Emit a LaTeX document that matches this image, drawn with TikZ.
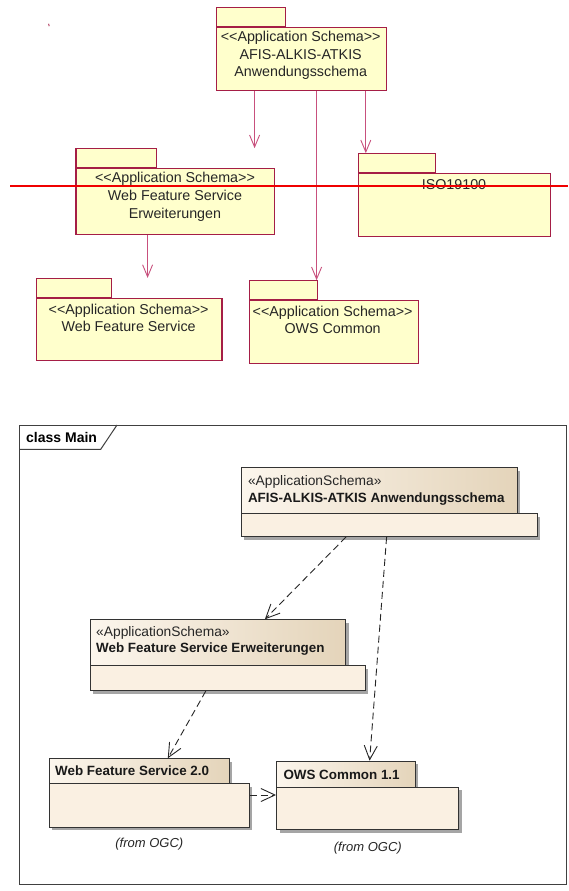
\documentclass[tikz,border=0pt]{standalone}
\usepackage{fontspec}
\setmainfont{Liberation Sans}
\usetikzlibrary{arrows.meta,shadows}
\definecolor{pkgfill}{RGB}{255,255,204}
\definecolor{pkgdraw}{RGB}{165,30,70}
\definecolor{pkgline}{RGB}{200,80,125}
\definecolor{redline}{RGB}{240,0,0}
\definecolor{hdrL}{RGB}{252,246,237}
\definecolor{hdrR}{RGB}{228,212,186}
\definecolor{lowfill}{RGB}{250,240,226}
\definecolor{shadowc}{RGB}{165,165,165}
\newcommand{\stlt}{<\kern0pt<}
\newcommand{\stgt}{>\kern0pt>}
\begin{document}
\begin{tikzpicture}[x=1pt,y=-1pt,
  pkg/.style={draw=pkgdraw,fill=pkgfill,line width=1.1pt,inner sep=0pt,rectangle},
  pkgtxt/.style={align=center,inner sep=0pt,font=\fontsize{14.3}{17.7}\selectfont,text=black!85},
  pdep/.style={draw=pkgline,line width=0.9pt,-{Straight Barb[length=12pt,width=10pt]}},
  cls/.style={draw=black!80,line width=1pt,inner sep=0pt,rectangle,
    drop shadow={shadow xshift=3pt,shadow yshift=-3pt,fill=shadowc,opacity=1}},
  clshdr/.style={cls,left color=hdrL,right color=hdrR},
  clslow/.style={cls,fill=lowfill},
  stereo/.style={anchor=west,inner sep=0pt,font=\fontsize{13.8}{16}\selectfont,text=black!85},
  clsname/.style={anchor=west,inner sep=0pt,font=\fontsize{13.4}{16}\selectfont\bfseries,text=black!90},
  fromtxt/.style={inner sep=0pt,font=\fontsize{13}{15}\selectfont\itshape,text=black!85},
  cdep/.style={draw=black!85,line width=0.9pt,dash pattern=on 7pt off 4pt,-{Straight Barb[length=14pt,width=13pt]}}
]
\useasboundingbox (0,0) rectangle (568,891);
\fill[white] (0,0) rectangle (568,891);

% ---------- upper diagram ----------
\draw[pkgdraw,line width=0.8pt] (48.6,23.8) -- (49.2,26.2);

\node[pkg,anchor=south west,minimum width=68.5pt,minimum height=18.4pt] (afistab) at (216.3,26.7) {};
\node[pkg,anchor=north west,minimum width=169.2pt,minimum height=63pt] (afis) at (216.3,26.7) {};
\node[pkgtxt] (afistxt) at (300.7,55.5) {\stlt Application Schema\stgt\\AFIS-ALKIS-ATKIS\\Anwendungsschema};

\node[pkg,anchor=south west,minimum width=80.4pt,minimum height=18.4pt] (wfsetab) at (75.4,167.7) {};
\node[pkg,anchor=north west,minimum width=198.9pt,minimum height=66.6pt] (wfse) at (75.4,167.7) {};
\node[pkgtxt] (wfsetxt) at (175,197) {\stlt Application Schema\stgt\\Web Feature Service\\Erweiterungen};

\node[pkg,anchor=south west,minimum width=77.2pt,minimum height=19pt] (isotab) at (357.6,173.3) {};
\node[pkg,anchor=north west,minimum width=192pt,minimum height=62.4pt] (iso) at (357.6,173.3) {};
\node[pkgtxt] (isotxt) at (454,184.5) {ISO19100};

\node[pkg,anchor=south west,minimum width=75pt,minimum height=18.7pt] (wfstab) at (36.2,297.7) {};
\node[pkg,anchor=north west,minimum width=185.2pt,minimum height=62.6pt] (wfs) at (36.2,297.7) {};
\node[pkgtxt] (wfstxt) at (128.6,318) {\stlt Application Schema\stgt\\Web Feature Service};

\node[pkg,anchor=south west,minimum width=68.1pt,minimum height=18.7pt] (owstab) at (248.9,300) {};
\node[pkg,anchor=north west,minimum width=168.9pt,minimum height=62.7pt] (ows) at (248.9,300) {};
\node[pkgtxt] (owstxt) at (332.6,320) {\stlt Application Schema\stgt\\OWS Common};

\draw[pdep] (254.6,0 |- afis.south) -- (254.6,0 |- wfsetab.north);
\draw[pdep] (316.6,0 |- afis.south) -- (316.6,0 |- owstab.north);
\draw[pdep] (365.8,0 |- afis.south) -- (365.8,0 |- isotab.north);
\draw[pdep] (147.6,0 |- wfse.south) -- (147.6,0 |- wfstab.north);

\coordinate (redA) at (10,186);
\coordinate (redB) at (568,186);
\draw[redline,line width=1.6pt] (redA) -- (redB);

% ---------- lower diagram ----------
\node[draw=black!75,line width=1pt,anchor=north west,minimum width=546.8pt,minimum height=459pt,inner sep=0pt] (frame) at (19.2,425) {};
\draw[black!75,line width=1pt] (19.2,449.3) -- (100.7,449.3) -- (117,425);
\node[anchor=west,inner sep=0pt,font=\fontsize{14}{16}\selectfont\bfseries] (frametitle) at (26,437.5) {class Main};

\node[clshdr,anchor=north west,minimum width=276.1pt,minimum height=46pt] (afish) at (240.6,467.3) {};
\node[clslow,anchor=north west,minimum width=296pt,minimum height=22.7pt] (afisl) at (240.6,513.3) {};
\node[stereo] (afiss) at (247.8,481.7) {«ApplicationSchema»};
\node[clsname] (afisn) at (247.8,499.3) {AFIS-ALKIS-ATKIS Anwendungsschema};

\node[clshdr,anchor=north west,minimum width=255.1pt,minimum height=46pt] (wfseh) at (89.9,619.3) {};
\node[clslow,anchor=north west,minimum width=275pt,minimum height=24.7pt] (wfsel) at (89.9,665.3) {};
\node[stereo] (wfses) at (96,632.7) {«ApplicationSchema»};
\node[clsname] (wfsen) at (96,649.3) {Web Feature Service Erweiterungen};

\node[clshdr,anchor=north west,minimum width=180pt,minimum height=25pt] (wfs2h) at (48.6,758.3) {};
\node[clslow,anchor=north west,minimum width=200pt,minimum height=43.4pt] (wfs2l) at (48.6,783.3) {};
\node[clsname] (wfs2n) at (55,771.2) {Web Feature Service 2.0};
\node[fromtxt] (wfs2f) at (149.3,844) {(from OGC)};

\node[clshdr,anchor=north west,minimum width=138.9pt,minimum height=26pt] (owsh) at (276,760.7) {};
\node[clslow,anchor=north west,minimum width=182.3pt,minimum height=42.6pt] (owsl) at (276,786.7) {};
\node[clsname] (owsn) at (283.3,774.5) {OWS Common 1.1};
\node[fromtxt] (owsf) at (367.8,847.7) {(from OGC)};

\draw[cdep] (346,0 |- afisl.south) -- (264.9,0 |- wfseh.north);
\draw[cdep] (386.6,0 |- afisl.south) -- (369.6,0 |- owsh.north);
\draw[cdep] (205.8,0 |- wfsel.south) -- (167.8,0 |- wfs2h.north);
\draw[cdep] (wfs2l.east |- 0,795) -- (owsl.west |- 0,795);
\end{tikzpicture}
\end{document}
